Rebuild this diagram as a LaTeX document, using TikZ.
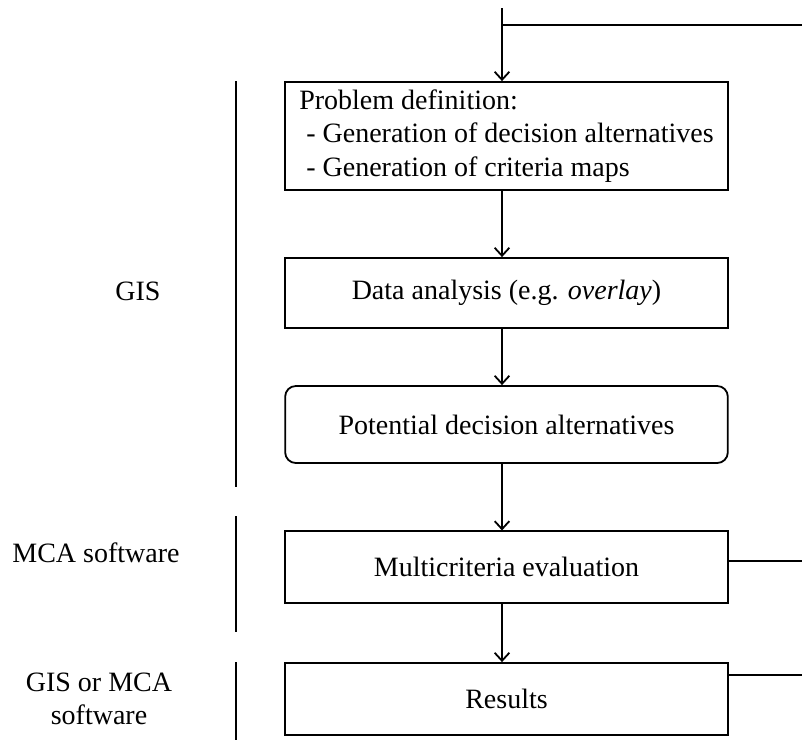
\documentclass[tikz,border=0pt]{standalone}
\usepackage{fontspec}
\setmainfont{Liberation Serif}
\usetikzlibrary{arrows.meta}
\begin{document}
\begin{tikzpicture}[x=0.75pt,y=-0.75pt,line width=1.35pt,line join=miter,
  >={Straight Barb[length=6pt,width=11pt,line width=1.35pt]},
  font=\fontsize{21}{25}\selectfont,
  box/.style={draw,minimum width=332pt,inner sep=0pt},
  tag/.style={align=center}]
  \useasboundingbox (0,0) rectangle (802,740);
  % flow boxes
  \node[box,minimum height=81pt,align=left] (def) at (506.5,136)
    {Problem definition:\\\ - Generation of decision alternatives\\\ - Generation of criteria maps};
  \node[box,minimum height=52.5pt] (ana) at (506.5,293) {Data analysis (e.g. \emph{overlay})};
  \node[box,minimum height=57.75pt,rounded corners=8pt] (alt) at (506.5,424.5) {Potential decision alternatives};
  \node[box,minimum height=53.5pt] (eva) at (506.5,567) {Multicriteria evaluation};
  \node[box,minimum height=54pt] (res) at (506.5,699) {Results};
  % feedback lines on the right
  \coordinate (top) at (502,8);
  \coordinate (tr) at (802,25);
  \coordinate (r4) at (802,561);
  \coordinate (r5) at (802,675);
  \draw (top |- tr) -- (tr);
  \draw (eva.east |- r4) -- (r4);
  \draw (res.east |- r5) -- (r5);
  % arrows
  \draw[->] (top) -- (def.north -| top);
  \draw[->] (def.south -| top) -- (ana.north -| top);
  \draw[->] (ana.south -| top) -- (alt.north -| top);
  \draw[->] (alt.south -| top) -- (eva.north -| top);
  \draw[->] (eva.south -| top) -- (res.north -| top);
  % software labels
  \node[tag] (gis) at (138,291) {GIS};
  \node[tag] (mca) at (96,553) {MCA software};
  \node[tag] (both) at (99,699) {GIS or MCA\\software};
  \draw (236,81) -- (236,487);
  \draw (236,516) -- (236,632);
  \draw (236,662) -- (236,740);
\end{tikzpicture}
\end{document}
